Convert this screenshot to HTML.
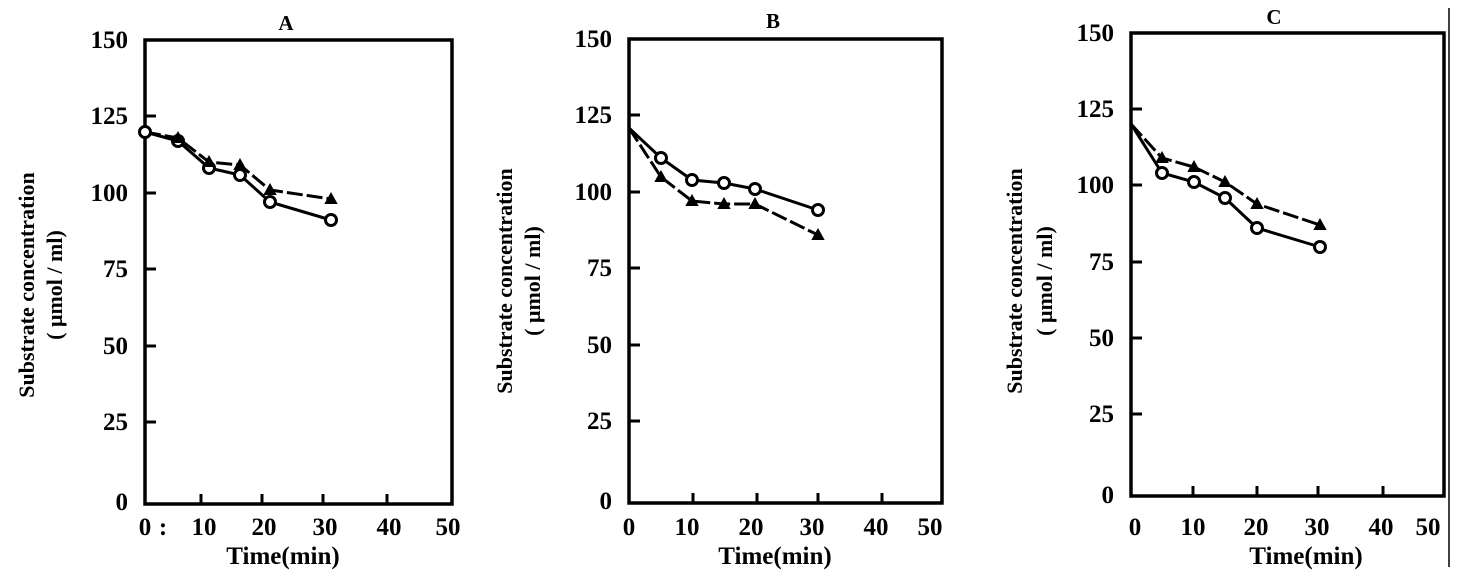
<!DOCTYPE html>
<html><head><meta charset="utf-8"><style>
html,body{margin:0;padding:0;background:#fff}
svg{display:block}
text{font-family:"Liberation Serif",serif;font-weight:bold;fill:#000}
.t{font-size:25px}
.l{font-size:22px}
</style></head><body>
<svg width="1478" height="580" viewBox="0 0 1478 580" xmlns="http://www.w3.org/2000/svg">
<g fill="none" stroke="#000">
<rect x="145" y="40" width="307" height="464" stroke-width="3.5"/>
<g stroke-width="3">
<line x1="145" y1="116" x2="156" y2="116"/><line x1="145" y1="193" x2="156" y2="193"/>
<line x1="145" y1="269" x2="156" y2="269"/><line x1="145" y1="346" x2="156" y2="346"/>
<line x1="145" y1="422" x2="156" y2="422"/>
<line x1="201" y1="504" x2="201" y2="494"/><line x1="262" y1="504" x2="262" y2="494"/>
<line x1="323" y1="504" x2="323" y2="494"/><line x1="387" y1="504" x2="387" y2="494"/>
</g>
<polyline stroke-width="3" points="145,132 178,141 209,168 240,175 270,202 331,220"/>
<polyline stroke-width="3" stroke-dasharray="16,4" points="145,132 178,138 209,162 240,165 270,190 331,199"/>
<rect x="629" y="39" width="313" height="464" stroke-width="3.5"/>
<g stroke-width="3">
<line x1="629" y1="115" x2="640" y2="115"/><line x1="629" y1="192" x2="640" y2="192"/>
<line x1="629" y1="268" x2="640" y2="268"/><line x1="629" y1="345" x2="640" y2="345"/>
<line x1="629" y1="421" x2="640" y2="421"/>
<line x1="693" y1="503" x2="693" y2="493"/><line x1="757" y1="503" x2="757" y2="493"/>
<line x1="818" y1="503" x2="818" y2="493"/><line x1="882" y1="503" x2="882" y2="493"/>
</g>
<polyline stroke-width="3" points="629,128 661,158 692,180 724,183 755,189 818,210"/>
<polyline stroke-width="3" stroke-dasharray="16,4" points="629,128 661,177 692,201 724,204 755,204 818,235"/>
<rect x="1131" y="33" width="313" height="463" stroke-width="3.5"/>
<g stroke-width="3">
<line x1="1131" y1="109" x2="1142" y2="109"/><line x1="1131" y1="185" x2="1142" y2="185"/>
<line x1="1131" y1="262" x2="1142" y2="262"/><line x1="1131" y1="338" x2="1142" y2="338"/>
<line x1="1131" y1="414" x2="1142" y2="414"/>
<line x1="1193" y1="496" x2="1193" y2="486"/><line x1="1257" y1="496" x2="1257" y2="486"/>
<line x1="1318" y1="496" x2="1318" y2="486"/><line x1="1383" y1="496" x2="1383" y2="486"/>
</g>
<polyline stroke-width="3" points="1131,124 1162,173 1194,182 1225,198 1257,228 1320,247"/>
<polyline stroke-width="3" stroke-dasharray="16,4" points="1131,124 1162,158 1194,167 1225,182 1257,204 1320,225"/>
<line x1="1449" y1="8" x2="1449" y2="567" stroke-width="1.5"/>
</g>
<g fill="#fff" stroke="#000" stroke-width="3">
<circle cx="145" cy="132" r="5.5"/><circle cx="178" cy="141" r="5.5"/><circle cx="209" cy="168" r="5.5"/>
<circle cx="240" cy="175" r="5.5"/><circle cx="270" cy="202" r="5.5"/><circle cx="331" cy="220" r="5.5"/>
<circle cx="661" cy="158" r="5.5"/><circle cx="692" cy="180" r="5.5"/><circle cx="724" cy="183" r="5.5"/>
<circle cx="755" cy="189" r="5.5"/><circle cx="818" cy="210" r="5.5"/>
<circle cx="1162" cy="173" r="5.5"/><circle cx="1194" cy="182" r="5.5"/><circle cx="1225" cy="198" r="5.5"/>
<circle cx="1257" cy="228" r="5.5"/><circle cx="1320" cy="247" r="5.5"/>
</g>
<g fill="#000" stroke="#000" stroke-width="2">
<polygon points="178,133 173,142 183,142"/><polygon points="209,157 204,166 214,166"/>
<polygon points="240,160 235,169 245,169"/><polygon points="270,185 265,194 275,194"/>
<polygon points="331,194 326,203 336,203"/>
<polygon points="661,172 656,181 666,181"/><polygon points="692,196 687,205 697,205"/>
<polygon points="724,199 719,208 729,208"/><polygon points="755,199 750,208 760,208"/>
<polygon points="818,230 813,239 823,239"/>
<polygon points="1162,153 1157,162 1167,162"/><polygon points="1194,162 1189,171 1199,171"/>
<polygon points="1225,177 1220,186 1230,186"/><polygon points="1257,199 1252,208 1262,208"/>
<polygon points="1320,220 1315,229 1325,229"/>
</g>
<text x="286" y="30" font-size="21" text-anchor="middle">A</text>
<text x="773" y="28" font-size="21" text-anchor="middle">B</text>
<text x="1274" y="24" font-size="21" text-anchor="middle">C</text>
<g class="t" text-anchor="end">
<text x="128" y="48">150</text><text x="128" y="124">125</text><text x="128" y="201">100</text>
<text x="128" y="277">75</text><text x="128" y="354">50</text><text x="128" y="430">25</text><text x="128" y="510">0</text>
<text x="612" y="47">150</text><text x="612" y="123">125</text><text x="612" y="200">100</text>
<text x="612" y="276">75</text><text x="612" y="353">50</text><text x="612" y="429">25</text><text x="612" y="509">0</text>
<text x="1114" y="41">150</text><text x="1114" y="117">125</text><text x="1114" y="193">100</text>
<text x="1114" y="270">75</text><text x="1114" y="346">50</text><text x="1114" y="422">25</text><text x="1114" y="503">0</text>
</g>
<g class="t" text-anchor="middle">
<text x="145" y="535">0</text><text x="163" y="535">:</text><text x="204" y="535">10</text><text x="264" y="535">20</text>
<text x="325" y="535">30</text><text x="389" y="535">40</text><text x="448" y="535">50</text>
<text x="629" y="535">0</text><text x="687" y="535">10</text><text x="751" y="535">20</text>
<text x="812" y="535">30</text><text x="876" y="535">40</text><text x="930" y="535">50</text>
<text x="1135" y="535">0</text><text x="1193" y="535">10</text><text x="1256" y="535">20</text>
<text x="1317" y="535">30</text><text x="1381" y="535">40</text><text x="1428" y="535">50</text>
<text x="283" y="564">Time(min)</text><text x="775" y="564">Time(min)</text><text x="1306" y="564">Time(min)</text>
</g>
<g class="l" text-anchor="middle">
<text transform="translate(34,285) rotate(-90)">Substrate concentration</text>
<text transform="translate(62,285) rotate(-90)">( μmol / ml)</text>
<text transform="translate(512,281) rotate(-90)">Substrate concentration</text>
<text transform="translate(540,281) rotate(-90)">( μmol / ml)</text>
<text transform="translate(1022,281) rotate(-90)">Substrate concentration</text>
<text transform="translate(1052,281) rotate(-90)">( μmol / ml)</text>
</g>
</svg>
</body></html>
